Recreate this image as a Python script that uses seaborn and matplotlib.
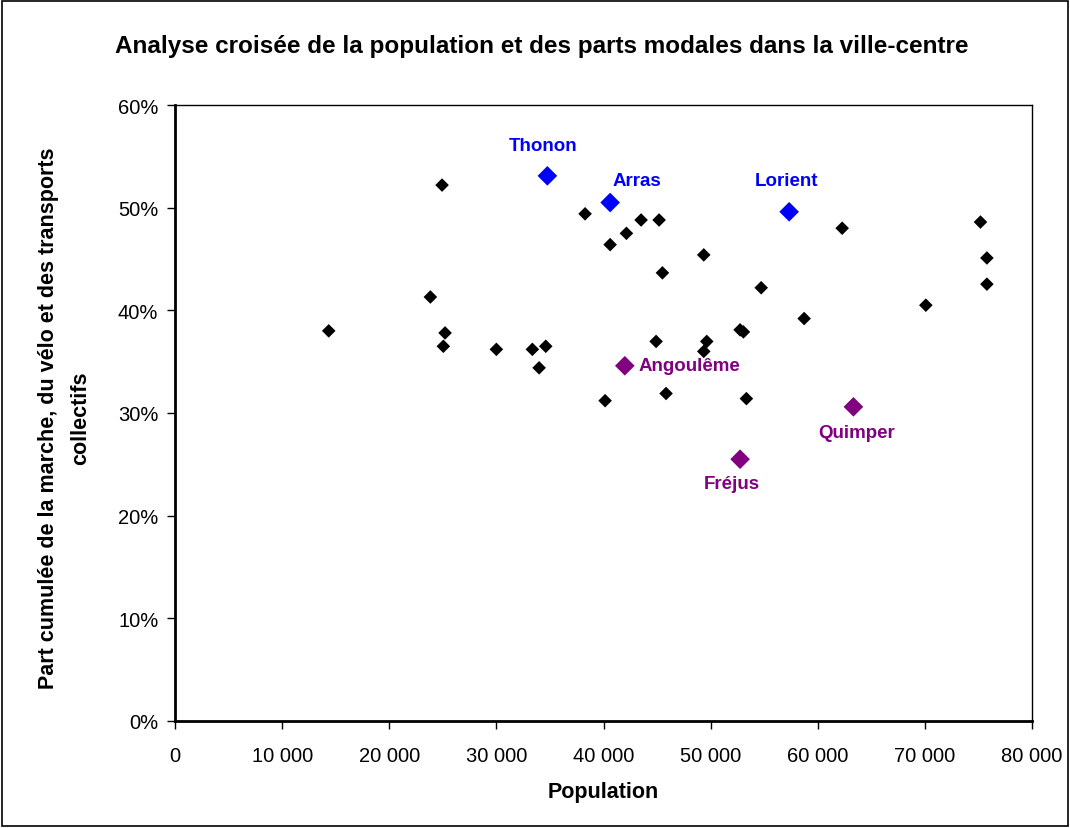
import matplotlib
matplotlib.use("Agg")
import matplotlib.pyplot as plt
import matplotlib.ticker as mticker
from matplotlib.patches import Rectangle
import seaborn as sns
import pandas as pd

# ---- data ----
other_pop = [14350, 24930, 23840, 25210, 25050, 30000, 33360, 34610, 33990,
             38280, 40620, 40150, 43510, 45190, 42140, 49360, 45500, 54720,
             58730, 62280, 75190, 75790, 75790, 70090, 44910, 49640, 49360,
             52750, 53060, 45840, 53340]
other_share = [38.0, 52.2, 41.3, 37.8, 36.5, 36.2, 36.2, 36.5, 34.4,
               49.4, 46.4, 31.2, 48.8, 48.8, 47.5, 45.4, 43.65, 42.2,
               39.2, 48.0, 48.6, 45.1, 42.55, 40.5, 36.97, 36.97, 36.0,
               38.1, 37.9, 31.9, 31.4]

hl_names = ["Thonon", "Arras", "Lorient", "Angoulême", "Quimper", "Fréjus"]
hl_pop = [34760, 40620, 57330, 41990, 63330, 52750]
hl_share = [53.1, 50.5, 49.6, 34.6, 30.6, 25.5]
hl_group = ["haut", "haut", "haut", "bas", "bas", "bas"]

x_ticks = [0, 10000, 20000, 30000, 40000, 50000, 60000, 70000, 80000]
y_ticks = [0, 10, 20, 30, 40, 50, 60]

title = "Analyse croisée de la population et des parts modales dans la ville-centre"
xlabel = "Population"
ylabel = "Part cumulée de la marche, du vélo et des transports\ncollectifs"

# ---- plot ----
sns.set_theme(style="white", rc={"text.color": "black", "axes.labelcolor": "black",
                                 "xtick.color": "black", "ytick.color": "black"})
plt.rcParams["font.family"] = ["Liberation Sans", "DejaVu Sans"]

fig = plt.figure(figsize=(10.70, 8.29), dpi=100)
W, H = 1070, 829
ax = fig.add_axes([175 / W, 1 - 722 / H, 857 / W, 616 / H])

df_other = pd.DataFrame({"pop": other_pop, "share": other_share})
df_hl = pd.DataFrame({"pop": hl_pop, "share": hl_share, "name": hl_names, "group": hl_group})

sns.scatterplot(data=df_other, x="pop", y="share", marker="D", s=48,
                color="black", edgecolor="none", ax=ax, legend=False)
palette = {"haut": "#0000FF", "bas": "#800080"}
sns.scatterplot(data=df_hl, x="pop", y="share", hue="group", palette=palette,
                marker="D", s=100, edgecolor="none", ax=ax, legend=False)

# labels: offsets in points (ha, va)
label_pos = {
    "Thonon": ((-3, 16), "center", "bottom"),
    "Arras": ((1.5, 9.5), "left", "bottom"),
    "Lorient": ((-2, 16.5), "center", "bottom"),
    "Angoulême": ((10, 0), "left", "center"),
    "Quimper": ((2, -12), "center", "top"),
    "Fréjus": ((-6, -11.5), "center", "top"),
}
for _, r in df_hl.iterrows():
    off, ha, va = label_pos[r["name"]]
    ax.annotate(r["name"], (r["pop"], r["share"]), xytext=off,
                textcoords="offset points", ha=ha, va=va,
                color=palette[r["group"]], fontsize=13.5, fontweight="bold")

ax.set_xlim(0, 80000)
ax.set_ylim(0, 60)
ax.set_xticks(x_ticks)
ax.set_yticks(y_ticks)
ax.xaxis.set_major_formatter(mticker.FuncFormatter(lambda v, p: f"{int(v):,}".replace(",", " ")))
ax.yaxis.set_major_formatter(mticker.FuncFormatter(lambda v, p: f"{int(v)}%"))
ax.tick_params(axis="both", which="major", direction="out", length=6, width=1,
               color="black", labelsize=14.5, labelcolor="black", pad=6, bottom=True, left=True)
ax.tick_params(axis="x", pad=12)

for side in ["left", "bottom"]:
    ax.spines[side].set_color("black")
    ax.spines[side].set_linewidth(2)
for side in ["top", "right"]:
    ax.spines[side].set_color("black")
    ax.spines[side].set_linewidth(1)

ax.set_xlabel("")
ax.set_ylabel("")
fig.text(603 / W, 1 - 793 / H, xlabel, ha="center", va="center",
         fontsize=15.5, fontweight="bold", color="black")
fig.text(65 / W, 1 - 418 / H, ylabel, ha="center", va="center", rotation=90,
         multialignment="center", fontsize=15.5, fontweight="bold",
         color="black", linespacing=1.7)

fig.text(542 / W, 1 - 47 / H, title, ha="center", va="center",
         fontsize=17.5, fontweight="bold", color="black")

fig.patches.append(Rectangle((0.002, 0.002), 0.996, 0.996, transform=fig.transFigure,
                             fill=False, edgecolor="black", linewidth=1.2))

fig.savefig("out.png", dpi=100)
